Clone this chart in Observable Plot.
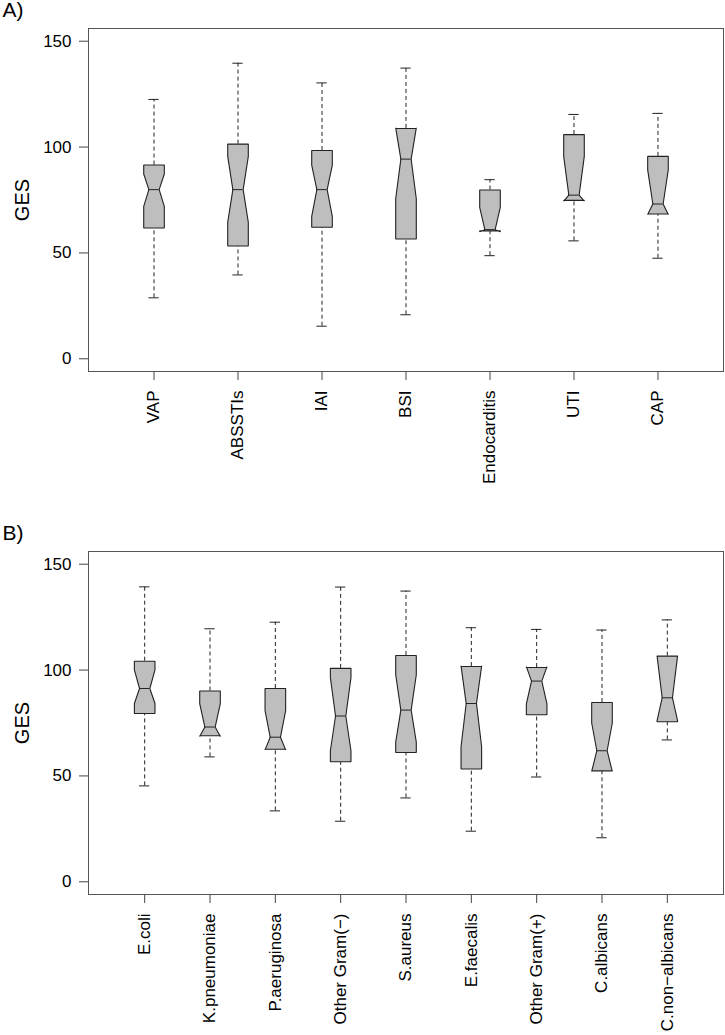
<!DOCTYPE html>
<html>
<head>
<meta charset="utf-8">
<script src="https://cdn.jsdelivr.net/npm/d3@7"></script>
<script src="https://cdn.jsdelivr.net/npm/@observablehq/plot@0.6"></script>
<style>
  html, body { margin: 0; padding: 0; background: #fff; }
  #chart svg { display: block; }
</style>
</head>
<body>
<div id="chart"></div>
<script>
// Panel A: infection type
const catsA = ["VAP", "ABSSTIs", "IAI", "BSI", "Endocarditis", "UTI", "CAP"];
const lowA   = [28.8, 39.6, 15.4, 20.8, 48.7, 55.7, 47.5];
const q1A    = [61.8, 53.3, 62.1, 56.6, 60.4, 74.8, 68.4];
const confLoA= [72.0, 64.4, 67.3, 75.6, 60.0, 74.5, 68.1];
const medA   = [79.9, 79.9, 79.9, 94.3, 61.0, 77.3, 73.1];
const confHiA= [87.3, 95.6, 91.5, 109.1, 71.5, 95.6, 89.2];
const q3A    = [91.5, 101.4, 98.4, 108.8, 79.7, 105.9, 95.6];
const highA  = [122.5, 139.6, 130.3, 137.3, 84.6, 115.4, 115.9];

// Panel B: pathogen
const catsB = ["E.coli", "K.pneumoniae", "P.aeruginosa", "Other Gram(\u2212)", "S.aureus", "E.faecalis", "Other Gram(+)", "C.albicans", "C.non\u2212albicans"];
const lowB   = [45.3, 59.0, 33.5, 28.6, 39.6, 23.9, 49.5, 20.8, 67.0];
const q1B    = [79.5, 69.0, 62.6, 56.7, 61.1, 53.3, 78.9, 52.4, 75.6];
const confLoB= [84.2, 68.6, 62.3, 61.9, 66.0, 63.8, 84.0, 52.1, 76.0];
const medB   = [91.3, 73.1, 68.3, 78.3, 81.1, 84.2, 94.8, 61.9, 86.9];
const confHiB= [100.1, 84.1, 80.8, 96.4, 97.8, 102.0, 101.6, 75.0, 106.8];
const q3B    = [104.2, 90.1, 91.3, 100.8, 106.9, 101.7, 101.2, 84.7, 106.6];
const highB  = [139.3, 119.5, 122.6, 139.2, 137.3, 120.0, 119.2, 118.9, 123.7];

const yTicks = [0, 50, 100, 150];
const yDomain = [-6, 156];

const W = 725, ML = 88, MR = 2, MT = 28;
const FONT = "'Liberation Sans', Arial, Helvetica, sans-serif";

function panel(tag, cats, lo, q1, cl, md, ch, q3, hi, height, marginBottom) {
  const n = cats.length;
  const x0 = 0.5 - 0.04 * n, x1 = n + 0.5 + 0.04 * n;
  const upp = (x1 - x0) / (W - ML - MR); // data units per pixel
  const wid = 10.3 * upp;
  const rows = cats.map((c, i) => ({c, i: i + 1, lo: lo[i], q1: q1[i], cl: cl[i], md: md[i], ch: ch[i], q3: q3[i], hi: hi[i]}));
  const kx = [-1, 1, 1, 0.5, 1, 1, -1, -1, -0.5, -1];
  const poly = rows.flatMap(r => {
    const ys = [r.q1, r.q1, r.cl, r.md, r.ch, r.q3, r.q3, r.ch, r.md, r.cl];
    return kx.map((k, j) => ({c: r.c, x: r.i + k * wid, y: ys[j]}));
  });
  return Plot.plot({
    width: W, height,
    marginLeft: ML, marginRight: MR, marginTop: MT, marginBottom,
    style: {fontFamily: FONT, fontSize: "17px", color: "black", background: "white", overflow: "visible"},
    x: {domain: [x0, x1], axis: null},
    y: {domain: yDomain, axis: null},
    marks: [
      Plot.axisY({ticks: yTicks, tickSize: 9, tickPadding: 8, label: null, stroke: "#444", fill: "black", fontSize: 17}),
      Plot.axisX({ticks: rows.map(r => r.i), tickSize: 9, tickFormat: () => "", label: null, stroke: "#444"}),
      Plot.text(rows, {x: "i", text: "c", frameAnchor: "bottom", dy: 19, rotate: -90, textAnchor: "end", lineAnchor: "middle", fontSize: 17, fill: "black"}),
      Plot.ruleX(rows, {x: "i", y1: "q3", y2: "hi", stroke: "#222", strokeDasharray: "4,3"}),
      Plot.ruleX(rows, {x: "i", y1: "lo", y2: "q1", stroke: "#222", strokeDasharray: "4,3"}),
      Plot.ruleY(rows, {y: "hi", x1: d => d.i - wid / 2, x2: d => d.i + wid / 2, stroke: "#222"}),
      Plot.ruleY(rows, {y: "lo", x1: d => d.i - wid / 2, x2: d => d.i + wid / 2, stroke: "#222"}),
      Plot.line(poly, {x: "x", y: "y", z: "c", curve: "linear-closed", fill: "#bebebe", stroke: "#222", strokeWidth: 1.1, strokeLinejoin: "miter"}),
      Plot.ruleY(rows, {y: "md", x1: d => d.i - wid / 2, x2: d => d.i + wid / 2, stroke: "#222", strokeWidth: 1}),
      Plot.frame({stroke: "#555"}),
      Plot.text(["GES"], {text: d => d, frameAnchor: "left", dx: -66, rotate: -90, fontSize: 20, textAnchor: "middle", lineAnchor: "middle", fill: "black"}),
      Plot.text([tag], {text: d => d, frameAnchor: "top-left", dx: -86, dy: -26, fontSize: 21, textAnchor: "start", lineAnchor: "top", fill: "black"})
    ]
  });
}

const root = document.getElementById("chart");
root.appendChild(panel("A)", catsA, lowA, q1A, confLoA, medA, confHiA, q3A, highA, 523, 152));
root.appendChild(panel("B)", catsB, lowB, q1B, confLoB, medB, confHiB, q3B, highB, 512, 141));
</script>
</body>
</html>
